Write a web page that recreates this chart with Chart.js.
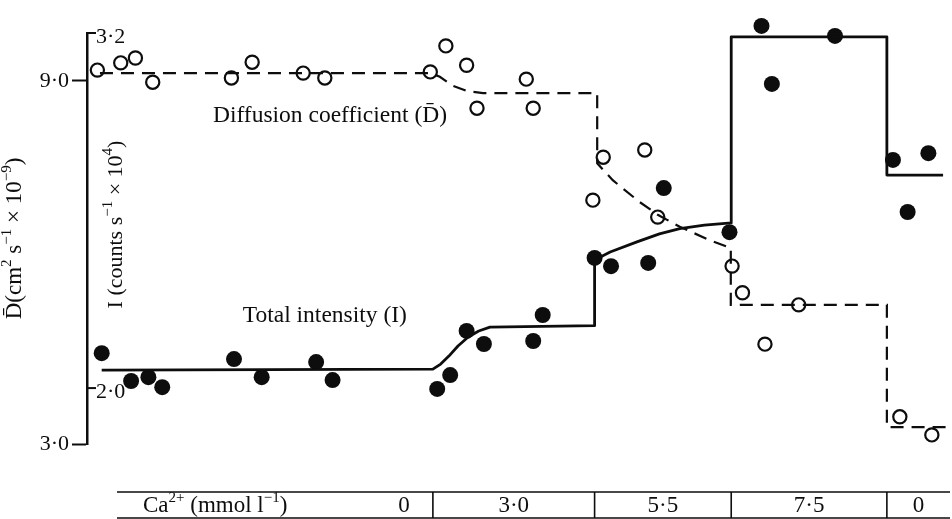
<!DOCTYPE html>
<html>
<head>
<meta charset="utf-8">
<script src="https://cdn.jsdelivr.net/npm/chart.js@4.4.1/dist/chart.umd.min.js"></script>
<style>
  html, body { margin: 0; padding: 0; background: #fff; }
  #wrap { width: 952px; height: 519px; }
</style>
</head>
<body>
<div id="wrap"><canvas id="chart" width="952" height="519"></canvas></div>
<script>
// time runs left to right in arbitrary units
// open circles: diffusion coefficient D
const openX = [1.2, 3.9, 5.6, 7.6, 16.7, 19.1, 25.0, 27.5, 39.7, 41.5, 43.9, 45.1, 50.8, 51.6,
               58.5, 59.7, 64.5, 66.0, 74.6, 75.8, 78.4, 82.3, 94.0, 97.7];
const openD = [9.18, 9.30, 9.38, 8.98, 9.05, 9.31, 9.13, 9.05, 9.15, 9.58, 9.26, 8.55, 9.03, 8.55,
               7.03, 7.74, 7.86, 6.75, 5.94, 5.50, 4.65, 5.30, 3.45, 3.15];

// filled circles: total intensity I
const filledX = [1.7, 5.1, 7.1, 8.7, 17.0, 20.2, 26.5, 28.4, 40.5, 42.0, 43.9, 45.9, 51.6, 52.7,
                 58.7, 60.6, 64.9, 66.7, 74.3, 75.5, 78.0, 79.2, 86.5, 93.2, 94.9, 97.3];
const filledI = [2.118, 2.024, 2.037, 2.003, 2.098, 2.037, 2.088, 2.027, 1.997, 2.044, 2.193, 2.149, 2.159, 2.247,
                 2.440, 2.412, 2.423, 2.676, 2.527, 3.258, 3.224, 3.028, 3.190, 2.771, 2.595, 2.794];

// fitted curves
const dFitX = [1.5, 39.7, 40.8, 42.3, 44.05, 45.8, 59.0, 59.0, 60.8, 63.9, 66.0, 68.55, 72.0, 74.45, 74.45, 92.5, 92.5, 100];
const dFitD = [9.13, 9.13, 9.07, 8.92, 8.83, 8.80, 8.80, 7.64, 7.36, 7.00, 6.79, 6.59, 6.37, 6.24, 5.30, 5.30, 3.28, 3.28];
const iFitX = [1.7, 40.0, 40.9, 41.85, 42.9, 44.05, 45.3, 46.6, 58.7, 58.7, 60.5, 63.6, 66.2, 68.55, 71.4, 74.5,
               74.5, 92.5, 92.5, 99.0];
const iFitI = [2.061, 2.064, 2.081, 2.108, 2.142, 2.172, 2.193, 2.206, 2.211, 2.433, 2.460, 2.494, 2.521, 2.539, 2.551, 2.558,
               3.187, 3.187, 2.720, 2.720];

// axis ticks
const dTicks = [3.0, 9.0];
const iTicks = [2.0, 3.2];

// calcium steps along the bottom
const caBounds = [40.0, 58.7, 74.5, 92.5];
const caLevels = ['0', '3·0', '5·5', '7·5', '0'];

const serif = '"Liberation Serif", "Times New Roman", serif';
const ink = '#0d0d0d';

function fmt(v) {
    return v.toFixed(1).replace('.', '·');
}

function pts(xs, ys) {
    return xs.map((x, i) => ({ x: x, y: ys[i] }));
}

// text with superscripts: parts are [text, isSup]
function richWidth(ctx, parts, size) {
    let w = 0;
    parts.forEach(p => {
        ctx.font = (p[1] ? Math.round(size * 0.66) : size) + 'px ' + serif;
        w += ctx.measureText(p[0]).width;
    });
    return w;
}

function drawRich(ctx, parts, x, y, size, align) {
    const w = richWidth(ctx, parts, size);
    let cx = align === 'left' ? x : x - w / 2;
    ctx.textAlign = 'left';
    ctx.textBaseline = 'middle';
    parts.forEach(p => {
        ctx.font = (p[1] ? Math.round(size * 0.66) : size) + 'px ' + serif;
        ctx.fillText(p[0], cx, p[1] ? y - size * 0.36 : y);
        cx += ctx.measureText(p[0]).width;
    });
}

const extras = {
    id: 'extras',
    afterDraw(chart) {
        const ctx = chart.ctx;
        const area = chart.chartArea;
        const xs = chart.scales.x;
        const yD = chart.scales.yD;
        const yI = chart.scales.yI;
        ctx.save();
        ctx.fillStyle = ink;
        ctx.strokeStyle = ink;

        // inner intensity axis ticks
        ctx.lineWidth = 2;
        ctx.font = '22px ' + serif;
        ctx.textAlign = 'left';
        ctx.textBaseline = 'middle';
        iTicks.forEach(v => {
            const y = yI.getPixelForValue(v);
            ctx.beginPath();
            ctx.moveTo(area.left, y);
            ctx.lineTo(area.left + 9, y);
            ctx.stroke();
            ctx.fillText(fmt(v), area.left + 9, y + 4);
        });

        // axis titles
        ctx.save();
        ctx.translate(15, (area.top + area.bottom) / 2);
        ctx.rotate(-Math.PI / 2);
        drawRich(ctx, [['D\u0304(cm', 0], ['2', 1], [' s', 0], ['\u22121', 1], [' \u00d7 10', 0], ['\u22129', 1], [')', 0]], 0, 0, 23);
        ctx.restore();

        ctx.save();
        ctx.translate(area.left + 29, (area.top + area.bottom) / 2 - 14);
        ctx.rotate(-Math.PI / 2);
        drawRich(ctx, [['I (counts s', 0], ['\u22121', 1], [' \u00d7 10', 0], ['4', 1], [')', 0]], 0, 0, 22);
        ctx.restore();

        // series labels
        ctx.textAlign = 'center';
        ctx.textBaseline = 'middle';
        ctx.font = '23.5px ' + serif;
        ctx.fillText('Diffusion coefficient (D\u0304)', xs.getPixelForValue(28.1), yD.getPixelForValue(8.43));
        ctx.fillText('Total intensity (I)', xs.getPixelForValue(27.5), yI.getPixelForValue(2.245));

        // calcium table
        const top = 492, bot = 518, left = 117, right = 950;
        ctx.lineWidth = 1.6;
        ctx.beginPath();
        ctx.moveTo(left, top); ctx.lineTo(right, top);
        ctx.moveTo(left, bot); ctx.lineTo(right, bot);
        caBounds.forEach(b => {
            const x = xs.getPixelForValue(b);
            ctx.moveTo(x, top); ctx.lineTo(x, bot);
        });
        ctx.stroke();
        const mid = (top + bot) / 2 + 1;
        drawRich(ctx, [['Ca', 0], ['2+', 1], [' (mmol l', 0], ['\u22121', 1], [')', 0]], 143, mid, 23, 'left');
        const edges = [xs.getPixelForValue(0)].concat(caBounds.map(b => xs.getPixelForValue(b)), [right]);
        ctx.font = '23px ' + serif;
        ctx.textAlign = 'center';
        ctx.textBaseline = 'middle';
        caLevels.forEach((lab, i) => {
            let cx = (edges[i] + edges[i + 1]) / 2;
            if (i === 0) cx = edges[1] - 29;
            ctx.fillText(lab, cx, mid);
        });
        ctx.restore();
    }
};

new Chart(document.getElementById('chart'), {
    type: 'scatter',
    data: {
        datasets: [
            {
                label: 'D fit',
                data: pts(dFitX, dFitD),
                yAxisID: 'yD',
                showLine: true,
                pointRadius: 0,
                borderColor: ink,
                borderWidth: 2.2,
                borderDash: [13, 8],
                clip: false
            },
            {
                label: 'I fit',
                data: pts(iFitX, iFitI),
                yAxisID: 'yI',
                showLine: true,
                pointRadius: 0,
                borderColor: ink,
                borderWidth: 2.8,
                borderJoinStyle: 'round',
                clip: false
            },
            {
                label: 'Diffusion coefficient',
                data: pts(openX, openD),
                yAxisID: 'yD',
                pointRadius: 6.6,
                pointBorderWidth: 2.2,
                pointBackgroundColor: 'rgba(0,0,0,0)',
                pointBorderColor: ink,
                clip: false
            },
            {
                label: 'Total intensity',
                data: pts(filledX, filledI),
                yAxisID: 'yI',
                pointRadius: 8,
                pointBorderWidth: 0,
                pointBackgroundColor: ink,
                clip: false
            }
        ]
    },
    options: {
        responsive: false,
        animation: false,
        events: [],
        layout: { autoPadding: false, padding: { top: 33, right: 2, bottom: 75, left: 0 } },
        plugins: {
            legend: { display: false },
            tooltip: { enabled: false }
        },
        scales: {
            x: {
                type: 'linear',
                min: 0,
                max: 99.8,
                display: false
            },
            yD: {
                position: 'left',
                min: 3.0,
                max: 9.793,
                afterBuildTicks: s => { s.ticks = dTicks.map(v => ({ value: v })); },
                afterFit: s => { s.width = 87; },
                ticks: {
                    color: ink,
                    padding: 3,
                    font: { family: serif, size: 22 },
                    callback: v => fmt(v)
                },
                grid: {
                    drawOnChartArea: false,
                    tickLength: 15,
                    tickWidth: 2,
                    color: ink
                },
                border: { color: ink, width: 2.5 }
            },
            yI: {
                position: 'left',
                min: 1.811,
                max: 3.2,
                display: false
            }
        }
    },
    plugins: [extras]
});
</script>
</body>
</html>
